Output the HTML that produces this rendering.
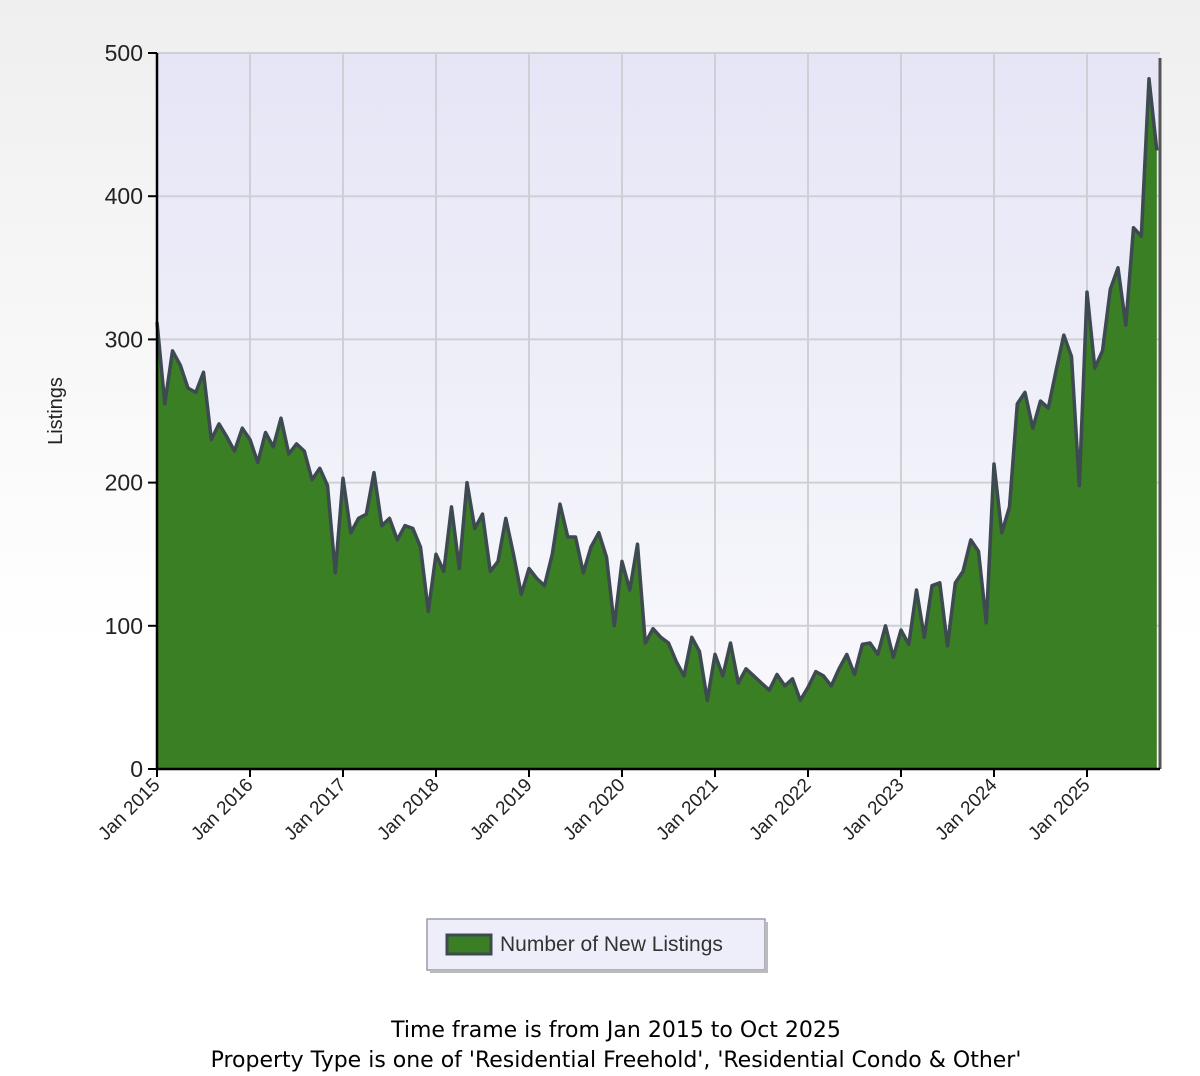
<!DOCTYPE html>
<html><head><meta charset="utf-8"><style>
body{margin:0;width:1200px;height:1076px;background:linear-gradient(#efefef,#ffffff 60%);font-family:"Liberation Sans",sans-serif;overflow:hidden}
</style></head><body>
<svg id="chart" width="1200" height="1076" style="position:absolute;left:0;top:0">
<defs><linearGradient id="pg" x1="0" y1="0" x2="0" y2="1"><stop offset="0" stop-color="#e5e5f6"/><stop offset="1" stop-color="#fafafd"/></linearGradient></defs>
<rect x="157" y="53" width="1003" height="716" fill="url(#pg)"/>
<g id="grid"></g><g id="series"></g><g id="axes"></g>
<text transform="translate(62,411) rotate(-90)" text-anchor="middle" font-size="20" fill="#222">Listings</text>
<g>
<rect x="427" y="919" width="338" height="51" fill="#eeeefa" stroke="#9a9aae" stroke-width="1.5"/>
<rect x="765" y="922" width="3" height="51" fill="#bbb"/>
<rect x="430" y="970" width="338" height="3" fill="#bbb"/>
<rect x="447" y="935" width="44" height="19" fill="#3a7f23" stroke="#3d4a50" stroke-width="3"/>
<text x="500" y="951" font-size="21" fill="#333">Number of New Listings</text>
</g>
<text x="616" y="1037" text-anchor="middle" font-family="DejaVu Sans,sans-serif" font-size="22" fill="#000">Time frame is from Jan 2015 to Oct 2025</text>
<text x="616" y="1067" text-anchor="middle" font-family="DejaVu Sans,sans-serif" font-size="22" fill="#000">Property Type is one of 'Residential Freehold', 'Residential Condo &amp; Other'</text>
</svg>
<script>
const yTicks=[0,100,200,300,400,500];
const xTickLabels=["Jan 2015","Jan 2016","Jan 2017","Jan 2018","Jan 2019","Jan 2020","Jan 2021","Jan 2022","Jan 2023","Jan 2024","Jan 2025"];
const v2015=[312,255,292,282,266,263,277,230,241,232,222,238];
const v2016=[230,214,235,225,245,220,227,222,202,210,198,137];
const v2017=[203,165,175,178,207,170,175,160,170,168,155,110];
const v2018=[150,138,183,140,200,168,178,138,145,175,150,122];
const v2019=[140,133,128,150,185,162,162,137,155,165,148,100];
const v2020=[145,125,157,88,98,92,88,75,65,92,82,48];
const v2021=[80,65,88,60,70,65,60,55,66,58,63,48];
const v2022=[57,68,65,58,70,80,66,87,88,80,100,78];
const v2023=[97,87,125,92,128,130,86,130,138,160,152,102];
const v2024=[213,165,183,255,263,238,257,252,278,303,288,198];
const v2025=[333,280,292,335,350,310,378,372,482,432];
const values=[].concat(v2015,v2016,v2017,v2018,v2019,v2020,v2021,v2022,v2023,v2024,v2025);
const NS="http://www.w3.org/2000/svg";
const X0=157,PXM=7.75,Y0=769,YT=53,YMAX=500;
const xs=i=>X0+i*PXM, ys=v=>Y0-(v/YMAX)*(Y0-YT);
function mk(t,a,p){const e=document.createElementNS(NS,t);for(const k in a)e.setAttribute(k,a[k]);p.appendChild(e);return e;}
const grid=document.getElementById('grid'),axes=document.getElementById('axes'),ser=document.getElementById('series');
yTicks.forEach(t=>{
  if(t>0){const g=mk('line',{x1:157,x2:1160,y1:ys(t),y2:ys(t),stroke:'#cfcfd6','stroke-width':2},grid);
  
  }
  const tk=mk('line',{x1:148,x2:157,y1:ys(t),y2:ys(t),stroke:'#000','stroke-width':2},axes);
  
  
  const l=mk('text',{x:143,y:ys(t)+8,'text-anchor':'end','font-size':23,fill:'#222'},axes);
  
  
  l.textContent=t;
});
xTickLabels.forEach((s,k)=>{
  const x=xs(k*12);
  if(k>0){const g=mk('line',{x1:x,x2:x,y1:53,y2:769,stroke:'#cfcfd6','stroke-width':2},grid);
  
  }
  const tk=mk('line',{x1:x,x2:x,y1:769,y2:777,stroke:'#000','stroke-width':2},axes);
  
  
  const l=mk('text',{transform:`translate(${x+4},${786}) rotate(-45)`,'text-anchor':'end','font-size':19,fill:'#222'},axes);
  
  
  l.textContent=s;
});
let pts=values.map((v,i)=>xs(i).toFixed(1)+','+ys(v).toFixed(1));
const area=mk('polygon',{points:X0+','+Y0+' '+pts.join(' ')+' '+xs(values.length-1).toFixed(1)+','+Y0,fill:'#3a7f23'},ser);


const line=mk('polyline',{points:pts.join(' '),fill:'none',stroke:'#3d4a50','stroke-width':3.5,'stroke-linejoin':'round'},ser);


const edge=mk('line',{x1:1160,x2:1160,y1:58,y2:769,stroke:'#555','stroke-width':3},ser);


const ya=mk('line',{x1:157,x2:157,y1:53,y2:770,stroke:'#000','stroke-width':2.5},axes);


const xa=mk('line',{x1:156,x2:1160,y1:769,y2:769,stroke:'#000','stroke-width':2.5},axes);


</script>
</body></html>
